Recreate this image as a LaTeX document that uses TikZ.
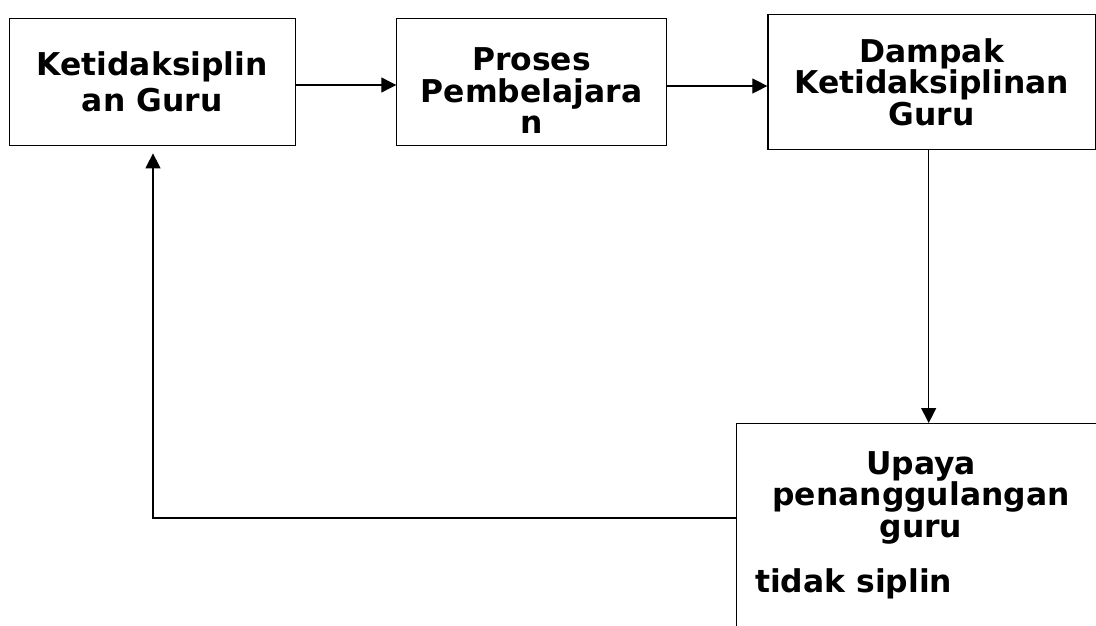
\documentclass[tikz,border=0pt]{standalone}
\usepackage{fontspec}
\setmainfont{DejaVu Sans}
\usetikzlibrary{arrows.meta,positioning}
\tikzset{
  box/.style={draw=black,line width=1.1pt,minimum height=127pt,inner sep=0pt,align=center,font=\bfseries\fontsize{31.4}{31.5}\selectfont},
  txt/.style={inner sep=0pt,align=center,font=\bfseries\fontsize{31.4}{31.8}\selectfont},
  arr/.style={-{Triangle[length=15pt,width=15pt]},draw=black,line width=1.1pt}
}

\begin{document}
\begin{tikzpicture}[x=1pt,y=-1pt,node distance=100.7pt]
  \useasboundingbox (0,0) rectangle (1096,626);
  \clip (0,0) rectangle (1096,626);
  \node[box,minimum width=285.7pt,font=\bfseries\fontsize{31.4}{36}\selectfont] (kd) at (152.2,82) {Ketidaksiplin\\an Guru};
  \node[box,right=of kd,minimum width=269.3pt] (pb) {\rule{0pt}{40pt}Proses\\Pembelajara\\n};
  \node[box,right=of pb,minimum width=327.5pt,minimum height=135.3pt] (dk) {Dampak\\Ketidaksiplinan\\Guru};
  \node[box,anchor=north west,minimum width=380pt,minimum height=260pt] (up) at (736,423) {};
  \node[txt,anchor=north] (uptxt) at (921,451) {Upaya\\penanggulangan\\guru};
  \node[txt,anchor=base west] (ts) at (755,592) {tidak siplin};
  \coordinate (turn) at (153,518);
  \draw[arr] ([yshift=-3pt]kd.east) -- ([yshift=-3pt]kd.east -| pb.west);
  \draw[arr] ([yshift=-4pt]pb.east) -- ([yshift=-4pt]pb.east -| dk.west);
  \draw[arr] ([xshift=-3pt]dk.south) -- ([xshift=-3pt]dk.south |- up.north);
  \draw[arr,shorten >=7.3pt] (up.west |- turn) -- (turn) -- (turn |- kd.south);
\end{tikzpicture}
\end{document}
